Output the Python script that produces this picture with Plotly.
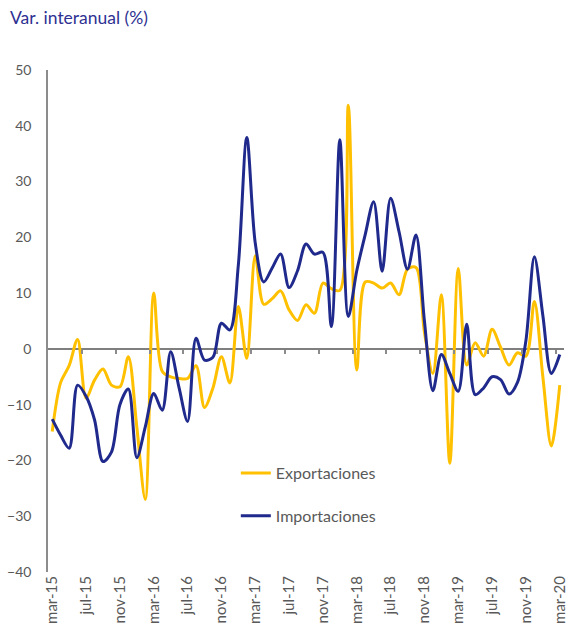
import plotly.graph_objects as go

# ============================ DATA ===============================
meses = ["ene", "feb", "mar", "abr", "may", "jun", "jul", "ago", "sep", "oct", "nov", "dic"]
fechas = [f"{meses[m % 12]}-{15 + m // 12}" for m in range(2, 63)]   # mar-15 ... mar-20

exportaciones = [-14.8, -6.0, -3.0, 1.7, -8.8, -5.6, -3.6, -6.5, -6.8, -1.4,
                 -14.0, -27.0, 10.0, -4.0, -5.0, -5.3, -5.3, -3.0, -10.5, -7.0,
                 -1.4, -6.1, 7.6, -1.7, 16.7, 8.0, 9.0, 10.4, 7.0, 5.1,
                 7.9, 6.4, 11.8, 10.8, 10.5, 43.7, -3.8, 12.0, 11.8, 10.9,
                 11.8, 9.7, 14.3, 14.6, 3.0, -4.4, 9.7, -20.5, 14.4, -2.9,
                 1.1, -1.3, 3.5, 0.3, -2.9, -0.7, -1.3, 8.5, -5.0, -17.4,
                 -6.5]

importaciones = [-12.6, -15.5, -17.8, -6.5, -8.5, -12.7, -20.2, -18.5, -10.0, -7.2,
                 -19.5, -14.0, -8.0, -11.0, -0.5, -7.0, -13.0, 1.9, -2.0, -1.5,
                 4.6, 3.4, 15.0, 37.9, 19.0, 12.0, 14.5, 17.0, 11.0, 14.0,
                 18.8, 17.0, 17.3, 4.0, 37.5, 5.8, 14.0, 20.5, 26.4, 13.9,
                 27.0, 21.0, 14.3, 20.4, 5.0, -7.5, -1.0, -4.4, -7.6, 4.4,
                 -8.2, -7.0, -5.0, -5.5, -8.1, -6.0, 1.5, 16.5, 6.0, -4.4,
                 -1.0]

etiquetas_x = fechas[::4]

# ============================ STYLE ===============================
amarillo = '#FFC000'
azul = '#1F2A8C'
gris_texto = '#595959'
gris_eje = '#8C8C8C'
fuente = 'Lato'

# ============================ PLOT ===============================
fig = go.Figure()

fig.add_trace(go.Scatter(
    x=fechas, y=exportaciones, name='Exportaciones', mode='lines',
    line=dict(color=amarillo, width=3, shape='spline', smoothing=0.9),
    legend='legend'
))
fig.add_trace(go.Scatter(
    x=fechas, y=importaciones, name='Importaciones', mode='lines',
    line=dict(color=azul, width=3, shape='spline', smoothing=0.9),
    legend='legend2'
))
# empty helper trace so the zero-line tick axis gets drawn
fig.add_trace(go.Scatter(
    x=[None], y=[None], xaxis='x2', mode='lines',
    showlegend=False, hoverinfo='skip'
))

n = len(fechas)
fig.update_layout(
    width=568,
    height=626,
    paper_bgcolor='white',
    plot_bgcolor='white',
    margin=dict(l=48, r=4, t=70, b=54),
    font=dict(family=fuente, size=14, color=gris_texto),
    showlegend=True,

    xaxis=dict(
        type='category',
        range=[-0.5, n - 0.5],
        tickmode='array',
        tickvals=etiquetas_x,
        ticktext=etiquetas_x,
        tickangle=-90,
        showline=False,
        showgrid=False,
        zeroline=False,
        ticks='',
        automargin=False,
        tickfont=dict(size=15, color=gris_texto),
    ),
    # small ticks on the zero line, at category boundaries
    xaxis2=dict(
        overlaying='x',
        anchor='free',
        position=40 / 90,
        range=[-0.5, n - 0.5],
        tickmode='array',
        tickvals=[i - 0.5 for i in range(4, n, 4)],
        ticks='outside',
        ticklen=4,
        tickwidth=1.5,
        tickcolor=gris_eje,
        showticklabels=False,
        showline=False,
        showgrid=False,
        zeroline=False,
        automargin=False,
    ),
    yaxis=dict(
        range=[-40, 50],
        dtick=10,
        showgrid=False,
        showline=True,
        linecolor=gris_eje,
        linewidth=1.5,
        zeroline=True,
        zerolinecolor='#7F7F7F',
        zerolinewidth=1.5,
        ticks='outside',
        ticklen=12,
        tickcolor='rgba(0,0,0,0)',
        automargin=False,
        tickfont=dict(size=14, color=gris_texto),
    ),

    legend=dict(
        x=0.364, y=0.197, xanchor='left', yanchor='middle',
        bgcolor='rgba(0,0,0,0)', borderwidth=0,
        font=dict(size=16, color=gris_texto),
    ),
    legend2=dict(
        x=0.364, y=0.112, xanchor='left', yanchor='middle',
        bgcolor='rgba(0,0,0,0)', borderwidth=0,
        font=dict(size=16, color=gris_texto),
    ),

    annotations=[dict(
        text='Var. interanual (%)',
        xref='paper', yref='paper',
        x=-0.078, y=1.104, xanchor='left', yanchor='middle',
        showarrow=False,
        font=dict(family=fuente, size=17.5, color='#2E3192'),
    )],
)

# page body has a default 8px margin; drop it so the figure fills the window
fig.write_html("out.html", config={'displayModeBar': False},
               post_script="document.body.style.margin='0';")
